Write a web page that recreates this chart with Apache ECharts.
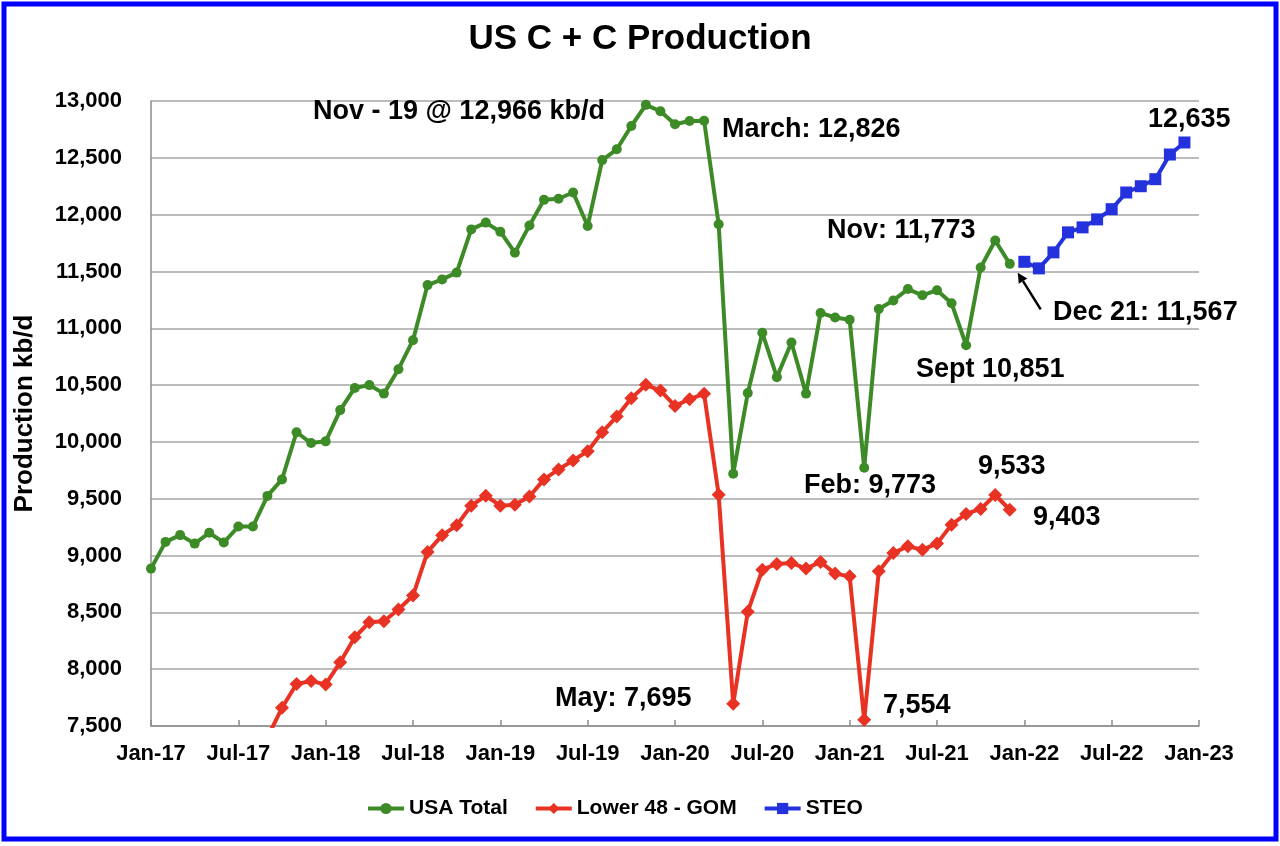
<!DOCTYPE html>
<html>
<head>
<meta charset="utf-8">
<title>US C + C Production</title>
<script src="https://cdn.jsdelivr.net/npm/echarts@6/dist/echarts.min.js"></script>
<style>
  html, body { margin: 0; padding: 0; background: #fff; }
  #chart { width: 1280px; height: 846px; }
</style>
</head>
<body>
<div id="chart"></div>
<script>
// 月份类目 Jan-17 ... Jan-23
const years = ['17', '18', '19', '20', '21', '22'];
const monthNames = ['Jan', 'Feb', 'Mar', 'Apr', 'May', 'Jun', 'Jul', 'Aug', 'Sep', 'Oct', 'Nov', 'Dec'];

// USA Total, Jan-17 .. Dec-21
const usaTotal = [
  8885, 9120, 9180, 9105, 9200, 9115, 9255, 9255, 9525, 9670, 10085, 9990,
  10005, 10280, 10475, 10500, 10425, 10640, 10895, 11380, 11430, 11490, 11870, 11930,
  11850, 11665, 11905, 12130, 12140, 12195, 11900, 12480, 12575, 12780, 12966, 12910,
  12795, 12824, 12826, 11915, 9720, 10430, 10960, 10570, 10875, 10425, 11135, 11095,
  11075, 9773, 11170, 11245, 11345, 11290, 11335, 11220, 10851, 11535, 11773, 11567
];

// Lower 48 - GOM, Jan-17 .. Dec-21 (early 2017 below the axis)
const lower48 = [
  null, null, null, null, null, null, null, null, 7400, 7660, 7870, 7895,
  7866, 8062, 8281, 8413, 8422, 8525, 8648, 9032, 9178, 9266, 9439, 9526,
  9439, 9447, 9520, 9670, 9758, 9837, 9918, 10086, 10223, 10385, 10502, 10452,
  10317, 10376, 10423, 9535, 7695, 8505, 8876, 8926, 8935, 8885, 8944, 8841,
  8817, 7554, 8861, 9023, 9081, 9052, 9105, 9272, 9366, 9410, 9533, 9403
];

// STEO, Jan-22 .. Dec-22
const steo = [11585, 11527, 11668, 11844, 11888, 11958, 12048, 12195, 12250, 12312, 12529, 12635];

const months = [];
years.forEach(y => monthNames.forEach(m => months.push(m + '-' + y)));
months.push('Jan-23');

function pad(arr, start) {
  let out = [];
  for (let i = 0; i < months.length; i++) {
    let k = i - start;
    out.push(k >= 0 && k < arr.length ? arr[k] : null);
  }
  return out;
}

const FONT = '"Liberation Sans", Arial, sans-serif';

// 标注文字
function note(text, x, y) {
  return {
    type: 'text',
    z: 100,
    style: {
      text: text, x: x, y: y,
      fill: '#000',
      font: 'bold 27px ' + FONT,
      textVerticalAlign: 'middle'
    }
  };
}

let mychart = echarts.init(document.getElementById('chart'));
let options = {
  animation: false,
  backgroundColor: '#fff',
  textStyle: { fontFamily: FONT },
  title: {
    text: 'US C + C Production',
    left: 'center',
    top: 22,
    padding: 0,
    textStyle: { fontSize: 35, fontWeight: 'bold', color: '#000', fontFamily: FONT }
  },
  grid: { left: 151, right: 81, top: 101, bottom: 120, outerBoundsMode: 'none', containLabel: false },
  legend: {
    left: 366,
    top: 798,
    padding: 0,
    itemGap: 26,
    itemWidth: 36,
    itemHeight: 14,
    lineStyle: { width: 4 },
    textStyle: { fontSize: 21, fontWeight: 'bold', color: '#000', fontFamily: FONT },
    data: ['USA Total', 'Lower 48 - GOM', 'STEO']
  },
  xAxis: {
    type: 'category',
    boundaryGap: false,
    data: months,
    axisLine: { lineStyle: { color: '#8c8c8c', width: 1.5 } },
    axisTick: { interval: 5, inside: true, length: 6, lineStyle: { color: '#8c8c8c', width: 1.5 } },
    axisLabel: {
      interval: 5,
      margin: 17,
      color: '#000',
      fontSize: 22,
      fontWeight: 'bold',
      fontFamily: FONT
    },
    splitLine: { show: false }
  },
  yAxis: {
    type: 'value',
    min: 7500,
    max: 13000,
    interval: 500,
    name: 'Production kb/d',
    nameLocation: 'middle',
    nameRotate: 90,
    nameGap: 113,
    nameTextStyle: { fontSize: 26, fontWeight: 'bold', color: '#000', fontFamily: FONT },
    axisLine: { show: true, lineStyle: { color: '#8c8c8c', width: 1.5 } },
    axisTick: { show: false },
    axisLabel: {
      margin: 29,
      color: '#000',
      fontSize: 22,
      fontWeight: 'bold',
      fontFamily: FONT,
      formatter: v => v.toLocaleString('en-US')
    },
    splitLine: { lineStyle: { color: '#a6a6a6', width: 1.5 } }
  },
  series: [{
    name: 'USA Total',
    type: 'line',
    data: pad(usaTotal, 0),
    color: '#3d8b27',
    symbol: 'circle',
    symbolSize: 10,
    showAllSymbol: true,
    lineStyle: { width: 4 },
    z: 3
  }, {
    name: 'Lower 48 - GOM',
    type: 'line',
    data: pad(lower48, 0),
    color: '#e83223',
    symbol: 'diamond',
    symbolSize: 14,
    showAllSymbol: true,
    lineStyle: { width: 4 },
    z: 2
  }, {
    name: 'STEO',
    type: 'line',
    data: pad(steo, 60),
    color: '#2332dc',
    symbol: 'rect',
    symbolSize: 12,
    showAllSymbol: true,
    lineStyle: { width: 4 },
    z: 4
  }],
  graphic: [
    {
      type: 'rect', z: 0, silent: true,
      shape: { x: 4, y: 4, width: 1272, height: 835 },
      style: { fill: null, stroke: '#0000ff', lineWidth: 5 }
    },
    note('Nov - 19 @ 12,966 kb/d', 313, 112),
    note('March: 12,826', 722, 130),
    note('Nov: 11,773', 827, 231),
    note('Dec 21: 11,567', 1053, 313),
    note('Sept 10,851', 916, 370),
    note('12,635', 1148, 120),
    note('Feb: 9,773', 804, 486),
    note('9,533', 978, 467),
    note('9,403', 1033, 518),
    note('May: 7,695', 555, 699),
    note('7,554', 883, 706),
    {
      type: 'line', z: 100,
      shape: { x1: 1040.7, y1: 309.3, x2: 1023, y2: 281.2 },
      style: { stroke: '#000', lineWidth: 2.5 }
    },
    {
      type: 'polygon', z: 100,
      shape: { points: [[1017.7, 272.7], [1027.3, 278.5], [1018.8, 283.8]] },
      style: { fill: '#000' }
    }
  ]
};
mychart.setOption(options);
</script>
</body>
</html>
